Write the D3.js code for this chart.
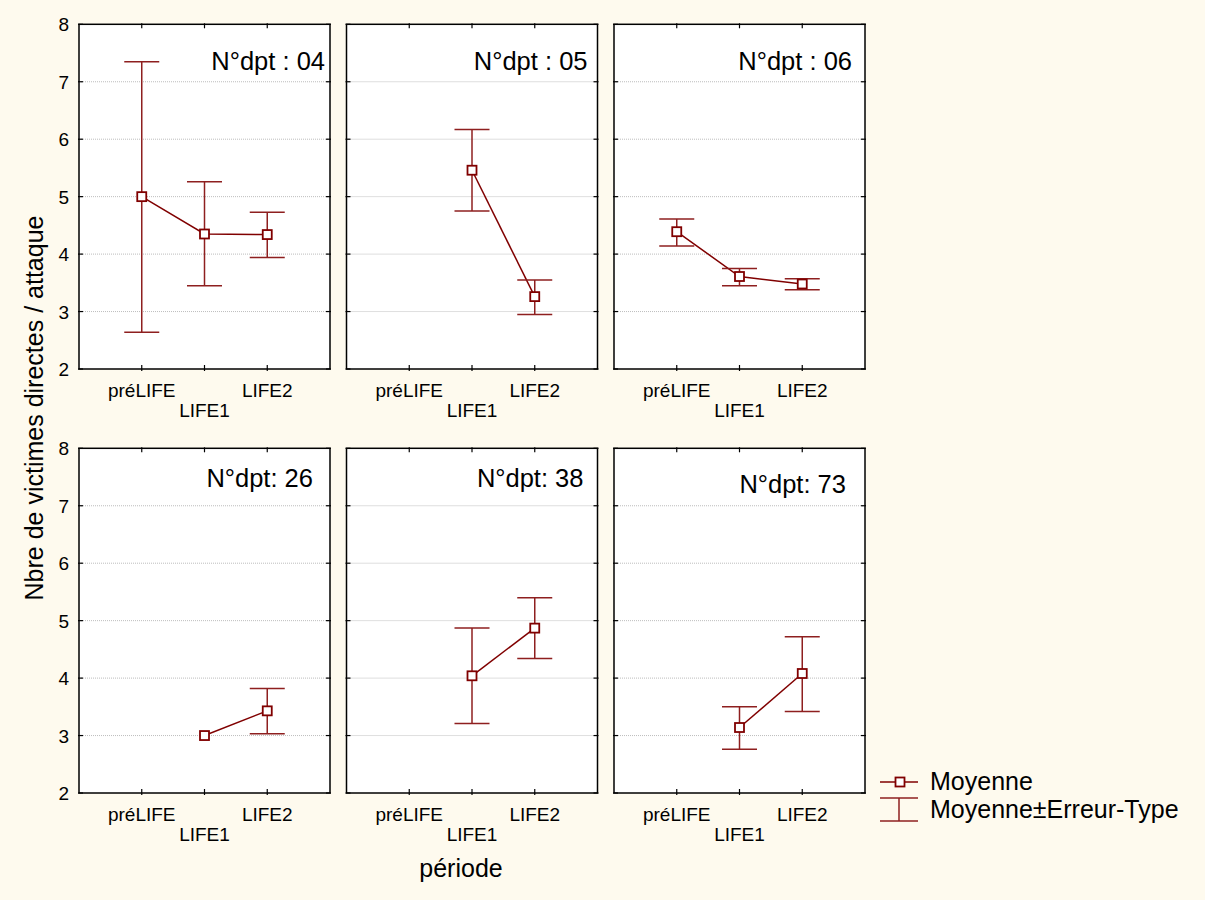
<!DOCTYPE html>
<html><head><meta charset="utf-8">
<script src="https://cdn.jsdelivr.net/npm/d3@7/dist/d3.min.js"></script>
<style>
html,body{margin:0;padding:0;background:#fefaee;}
svg{display:block;font-family:"Liberation Sans",Arial,sans-serif;}
</style></head><body>
<svg id="c" width="1205" height="900"></svg>
<script>
// ---- data ----
const categories = ["préLIFE", "LIFE1", "LIFE2"];
const panelLabels = ["N°dpt : 04", "N°dpt : 05", "N°dpt : 06", "N°dpt: 26", "N°dpt: 38", "N°dpt: 73"];
const yTicks = [2, 3, 4, 5, 6, 7, 8];
const gridValues = [3, 4, 5, 6, 7];
// means per panel (null = no data)
const mean04 = [5.00, 4.35, 4.34];
const mean05 = [null, 5.46, 3.26];
const mean06 = [4.39, 3.61, 3.48];
const mean26 = [null, 3.00, 3.43];
const mean38 = [null, 4.04, 4.87];
const mean73 = [null, 3.14, 4.08];
// mean + standard error
const upper04 = [7.35, 5.26, 4.73];
const upper05 = [null, 6.17, 3.55];
const upper06 = [4.61, 3.75, 3.57];
const upper26 = [null, 3.00, 3.82];
const upper38 = [null, 4.87, 5.40];
const upper73 = [null, 3.50, 4.72];
// mean - standard error
const lower04 = [2.64, 3.45, 3.94];
const lower05 = [null, 4.75, 2.95];
const lower06 = [4.14, 3.45, 3.38];
const lower26 = [null, 3.00, 3.03];
const lower38 = [null, 3.21, 4.34];
const lower73 = [null, 2.76, 3.42];
const legendLabels = ["Moyenne", "Moyenne±Erreur-Type"];
const xLabel = "période";
const yLabel = "Nbre de victimes directes / attaque";

const means = [mean04, mean05, mean06, mean26, mean38, mean73];
const uppers = [upper04, upper05, upper06, upper26, upper38, upper73];
const lowers = [lower04, lower05, lower06, lower26, lower38, lower73];

// ---- layout ----
const colX = [79, 346.5, 614];
const rowY = [24.3, 448.3];
const pw = 251, ph = 344.7;
const labelDx = [-5, -10, -13, -17, -14, -19];
const labelDy = [46, 46, 46, 39, 39, 45];
const dark = "#800000", whisk = "#8e1f1f";

const svg = d3.select("#c");
svg.append("rect").attr("x", 3).attr("y", 0).attr("width", 1202).attr("height", 900).attr("fill", "#fefaee");

means.forEach((m, p) => {
  const x0 = colX[p % 3], y0 = rowY[Math.floor(p / 3)];
  const x = d3.scaleLinear().domain([0, 4]).range([x0, x0 + pw]);
  const y = d3.scaleLinear().domain([2, 8]).range([y0 + ph, y0]);
  const g = svg.append("g");
  g.append("rect").attr("x", x0).attr("y", y0).attr("width", pw).attr("height", ph)
    .attr("fill", "#fff");
  // grid
  g.selectAll(".grid").data(gridValues).join("line")
    .attr("x1", x0 + 2).attr("x2", x0 + pw - 2)
    .attr("y1", d => y(d)).attr("y2", d => y(d))
    .attr("stroke", "#bdbdbd").attr("stroke-width", 1).attr("stroke-dasharray", "1,1");
  // ticks
  yTicks.forEach(v => {
    g.append("line").attr("x1", x0 - 1).attr("x2", x0 + 4).attr("y1", y(v)).attr("y2", y(v)).attr("stroke", "#000").attr("stroke-width", 1.2);
    g.append("line").attr("x1", x0 + pw - 4).attr("x2", x0 + pw + 1).attr("y1", y(v)).attr("y2", y(v)).attr("stroke", "#000").attr("stroke-width", 1.2);
  });
  categories.forEach((c, i) => {
    g.append("line").attr("x1", x(i + 1)).attr("x2", x(i + 1)).attr("y1", y0 - 1).attr("y2", y0 + 4).attr("stroke", "#000").attr("stroke-width", 1.2);
    g.append("line").attr("x1", x(i + 1)).attr("x2", x(i + 1)).attr("y1", y0 + ph - 4).attr("y2", y0 + ph + 2).attr("stroke", "#000").attr("stroke-width", 1.2);
  });
  // frame
  g.append("rect").attr("x", x0).attr("y", y0).attr("width", pw).attr("height", ph)
    .attr("fill", "none").attr("stroke", "#000").attr("stroke-width", 1.5);
  // y axis labels (first column only)
  if (p % 3 === 0) {
    const ax = g.append("g").attr("transform", `translate(${x0},0)`)
      .call(d3.axisLeft(y).tickValues(yTicks).tickSize(0).tickPadding(10).tickFormat(d3.format("d")));
    ax.select(".domain").remove();
    ax.selectAll("text").attr("font-size", 19).attr("fill", "#000")
      .attr("font-family", "'Liberation Sans', Arial, sans-serif").attr("dy", "0.35em");
  }
  // x labels
  categories.forEach((c, i) => {
    g.append("text").attr("x", x(i + 1)).attr("y", y0 + ph + (i === 1 ? 48 : 28))
      .attr("text-anchor", "middle").attr("font-size", 19).text(c);
  });
  // panel label
  g.append("text").attr("x", x0 + pw + labelDx[p]).attr("y", y0 + labelDy[p])
    .attr("text-anchor", "end").attr("font-size", 25.5).text(panelLabels[p]);
  // data
  const pts = m.map((v, i) => ({i, v, hi: uppers[p][i], lo: lowers[p][i]})).filter(d => d.v !== null);
  const line = d3.line().x(d => x(d.i + 1)).y(d => y(d.v));
  g.append("path").attr("d", line(pts)).attr("fill", "none").attr("stroke", dark).attr("stroke-width", 1.5);
  pts.forEach(d => {
    if (d.hi !== d.lo) {
      const cx = x(d.i + 1);
      g.append("line").attr("x1", cx).attr("x2", cx).attr("y1", y(d.hi)).attr("y2", y(d.lo)).attr("stroke", whisk).attr("stroke-width", 1.5);
      [d.hi, d.lo].forEach(v => g.append("line").attr("x1", cx - 17.5).attr("x2", cx + 17.5).attr("y1", y(v)).attr("y2", y(v)).attr("stroke", whisk).attr("stroke-width", 1.5));
    }
  });
  g.selectAll(".pt").data(pts).join("rect")
    .attr("x", d => x(d.i + 1) - 4.5).attr("y", d => y(d.v) - 4.5)
    .attr("width", 9).attr("height", 9).attr("fill", "#fff").attr("stroke", dark).attr("stroke-width", 1.8);
});

// axis titles
svg.append("text").attr("transform", "translate(43,408) rotate(-90)")
  .attr("text-anchor", "middle").attr("font-size", 25).text(yLabel);
svg.append("text").attr("x", 461).attr("y", 877).attr("text-anchor", "middle").attr("font-size", 25).text(xLabel);

// legend
const lg = svg.append("g");
lg.append("line").attr("x1", 880).attr("x2", 918).attr("y1", 782).attr("y2", 782).attr("stroke", dark).attr("stroke-width", 1.5);
lg.append("rect").attr("x", 895.5).attr("y", 777.5).attr("width", 9).attr("height", 9).attr("fill", "#fff").attr("stroke", dark).attr("stroke-width", 1.8);
lg.append("text").attr("x", 930).attr("y", 790).attr("font-size", 25).text(legendLabels[0]);
lg.append("line").attr("x1", 899).attr("x2", 899).attr("y1", 798).attr("y2", 821).attr("stroke", whisk).attr("stroke-width", 1.5);
[798, 821].forEach(v => lg.append("line").attr("x1", 880).attr("x2", 918).attr("y1", v).attr("y2", v).attr("stroke", whisk).attr("stroke-width", 1.5));
lg.append("text").attr("x", 930).attr("y", 818).attr("font-size", 25).text(legendLabels[1]);
</script>
</body></html>
